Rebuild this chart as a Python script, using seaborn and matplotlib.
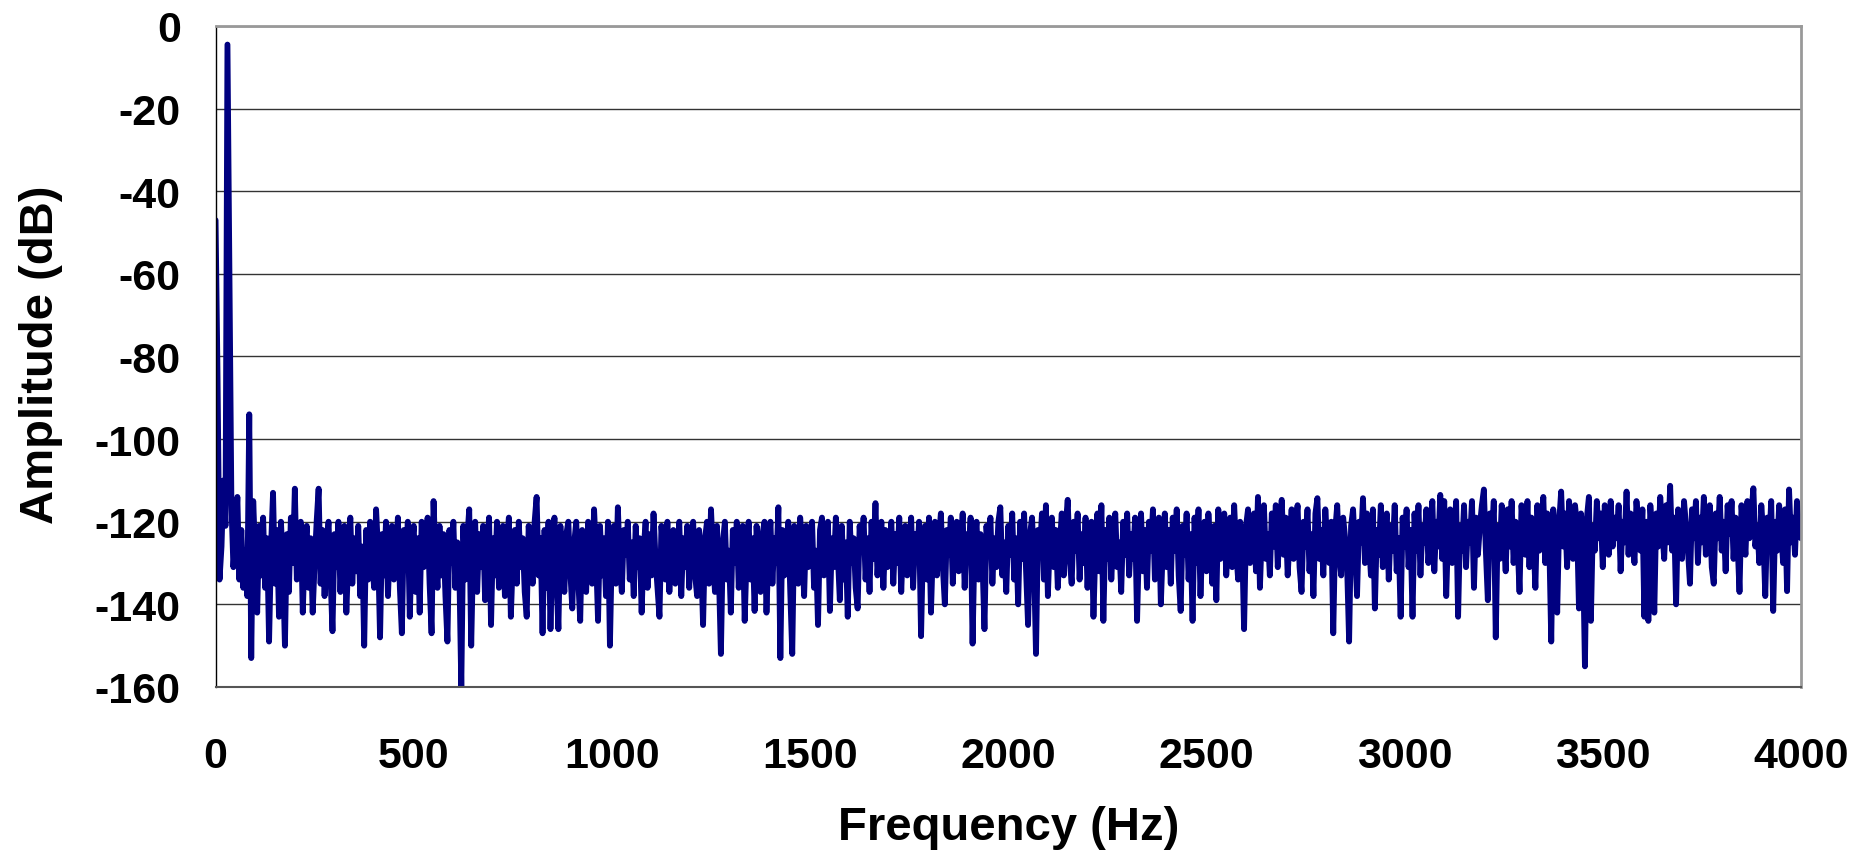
import numpy as np
import pandas as pd
import matplotlib.pyplot as plt
import seaborn as sns

# spectrum, one point every 5 Hz, one row = 100 Hz
freq_hz = np.arange(0, 4001, 5)

amp_0000 = [-47, -85, -134, -126, -110, -121, -4.5, -60, -116, -131, -124, -114, -134, -122, -136, -127, -138, -94, -153, -115]
amp_0100 = [-128, -142, -121, -133, -119, -136, -124, -149, -126, -113, -135, -122, -143, -120, -131, -150, -123, -137, -119, -130]
amp_0200 = [-112, -134, -125, -120, -142, -127, -121, -136, -124, -142, -130, -120, -112, -135, -122, -138, -126, -120, -133, -146.5]
amp_0300 = [-123, -131, -120, -137, -125, -121, -142, -128, -119, -135, -124, -132, -121, -138, -126, -150, -122, -134, -120, -129]
amp_0400 = [-136, -117, -127, -148, -123, -133, -120, -138, -125, -121, -134, -128, -119, -136, -147, -122, -130, -120, -143, -126]
amp_0500 = [-121, -137, -124, -142, -120, -131, -126, -119, -135, -147, -115, -129, -136, -121, -133, -123, -138, -149, -122, -130]
amp_0600 = [-120, -136, -125, -132, -160, -121, -134, -124, -117, -150, -127, -120, -137, -123, -131, -121, -139, -126, -119, -145]
amp_0700 = [-124, -133, -120, -136, -127, -121, -138, -125, -119, -143, -129, -122, -135, -120, -131, -124, -137, -143, -121, -128]
amp_0800 = [-135, -120, -114, -133, -124, -147, -122, -136, -120, -146, -127, -119, -134, -146, -121, -130, -137, -123, -120, -132]
amp_0900 = [-141, -125, -120, -134, -144, -122, -129, -137, -120, -126, -135, -117, -128, -144, -121, -133, -124, -138, -120, -150]
amp_1000 = [-126, -121, -135, -116.5, -130, -137, -122, -128, -120, -134, -125, -138, -121, -131, -124, -142, -127, -120, -136, -123]
amp_1100 = [-133, -118, -129, -136, -143, -121, -127, -134, -120, -137, -125, -122, -135, -128, -120, -138, -124, -131, -121, -136]
amp_1200 = [-126, -120, -133, -138, -122, -129, -145, -124, -120, -135, -117, -128, -137, -121, -133, -152, -125, -120, -134, -127]
amp_1300 = [-142, -122, -130, -120, -136, -125, -121, -144, -128, -120, -134, -124, -141.6, -121, -130, -137, -123, -120, -142, -127]
amp_1400 = [-120, -135, -124, -130, -116.5, -153, -122, -133, -126, -120, -137, -152, -121, -129, -135, -119, -126, -138, -121, -131]
amp_1500 = [-124, -120, -136, -127, -145, -122, -119, -133, -126, -120, -141.6, -124, -131, -119, -128, -139, -121, -134, -125, -143]
amp_1600 = [-120, -130, -124, -136, -141, -121, -127, -119, -134, -124, -137, -120, -129, -115.5, -133, -125, -120, -136, -122, -131]
amp_1700 = [-127, -120, -135, -123, -130, -119, -137, -124, -121, -133, -126, -119, -136, -123, -129, -120, -147.7, -125, -121, -134]
amp_1800 = [-119, -142, -126, -120, -133, -124, -118, -131, -140, -122, -128, -119, -135, -124, -120, -132, -126, -118, -136, -123]
amp_1900 = [-129, -119, -149.5, -125, -120, -134, -123, -130, -146, -121, -127, -119, -135, -124, -131, -120, -116.5, -133, -125, -137]
amp_2000 = [-121, -128, -118, -134, -124, -140, -120, -129, -118, -132, -145, -123, -119, -130, -152, -122, -127, -118, -134, -116]
amp_2100 = [-138, -124, -119, -131, -122, -136, -126, -118, -133, -121, -114.7, -129, -135, -120, -127, -118, -134, -123, -130, -119]
amp_2200 = [-136, -124, -120, -143, -126, -118, -132, -116, -144, -122, -129, -119, -134, -124, -118, -131, -125, -137, -120, -128]
amp_2300 = [-118, -133, -123, -129, -119, -144, -125, -118, -132, -122, -136, -120, -127, -117, -134, -124, -119, -140, -126, -118]
amp_2400 = [-131, -122, -135, -119, -127, -117, -133, -141.6, -121, -128, -118, -134, -123, -144, -119, -130, -117, -138, -124, -120]
amp_2500 = [-132, -118, -126, -135, -121, -139, -117, -129, -123, -118, -133, -125, -119, -131, -116, -127, -134, -120, -125, -146]
amp_2600 = [-121, -117, -130, -124, -118, -132, -114, -136, -122, -116, -129, -123, -133, -118, -126, -116, -131, -121, -114.7, -128]
amp_2700 = [-119, -133, -124, -117, -129, -121, -116, -131, -137, -120, -126, -117, -132, -123, -138, -118, -114.3, -129, -122, -133]
amp_2800 = [-117, -125, -130, -120, -147, -122, -116, -128, -133, -119, -124, -131, -149, -121, -117, -127, -138, -120, -125, -114.3]
amp_2900 = [-130, -118, -124, -133, -117, -141, -122, -128, -116, -131, -123, -118, -134, -121, -127, -116, -132, -124, -143, -119]
amp_3000 = [-126, -117, -131, -122, -143, -118, -127, -116, -133, -121, -125, -117, -130, -123, -115, -132, -120, -126, -113.5, -129]
amp_3100 = [-115, -138, -122, -117, -130, -124, -115, -143, -121, -127, -116, -131, -120, -125, -115, -136, -119, -128, -121, -116]
amp_3200 = [-112.2, -127, -139, -118, -124, -115, -148, -121, -129, -116, -123, -132, -117, -126, -115, -130, -120, -125, -137, -116]
amp_3300 = [-122, -128, -115, -131, -119, -124, -136, -116, -127, -121, -114, -130, -118, -125, -149, -117, -123, -142, -120, -112.7]
amp_3400 = [-126, -118, -131, -115, -123, -129, -116, -121, -141, -118, -127, -155, -119, -114, -144, -121, -127, -115, -124, -118]
amp_3500 = [-131, -116, -122, -128, -115, -126, -119, -124, -116, -132, -120, -125, -112.7, -128, -118, -123, -130, -115, -121, -127]
amp_3600 = [-117, -143, -120, -144, -116, -124, -142, -118, -126, -114, -122, -129, -116, -125, -111.3, -127, -119, -140, -117, -123]
amp_3700 = [-129, -115, -121, -127, -135, -117, -124, -115, -130, -119, -125, -114, -128, -121, -116, -131, -135, -118, -124, -114]
amp_3800 = [-127, -120, -132, -116, -123, -115, -129, -119, -125, -137, -116, -122, -128, -115, -124, -118, -111.9, -126, -121, -130]
amp_3900 = [-116, -123, -138, -119, -125, -115, -141.6, -120, -127, -116, -122, -130, -117, -136.8, -112.2, -125, -119, -128, -115, -121]
amp_4000 = [-124]

amplitude_db = (amp_0000 + amp_0100 + amp_0200 + amp_0300 + amp_0400 + amp_0500 + amp_0600
                + amp_0700 + amp_0800 + amp_0900 + amp_1000 + amp_1100 + amp_1200 + amp_1300
                + amp_1400 + amp_1500 + amp_1600 + amp_1700 + amp_1800 + amp_1900 + amp_2000
                + amp_2100 + amp_2200 + amp_2300 + amp_2400 + amp_2500 + amp_2600 + amp_2700
                + amp_2800 + amp_2900 + amp_3000 + amp_3100 + amp_3200 + amp_3300 + amp_3400
                + amp_3500 + amp_3600 + amp_3700 + amp_3800 + amp_3900 + amp_4000)

x_ticks = [0, 500, 1000, 1500, 2000, 2500, 3000, 3500, 4000]
y_ticks = [0, -20, -40, -60, -80, -100, -120, -140, -160]

df = pd.DataFrame({'freq': freq_hz, 'amp': amplitude_db})

sns.set_style("white")
plt.rcParams['font.family'] = ['Liberation Sans', 'DejaVu Sans']
plt.rcParams['font.weight'] = 'bold'
plt.rcParams['text.color'] = 'black'
plt.rcParams['axes.unicode_minus'] = False

fig = plt.figure(figsize=(18.68, 8.54), dpi=100)
ax = fig.add_axes([0.1154, 0.1944, 0.8487, 0.7740])

sns.lineplot(data=df, x='freq', y='amp', color='#000080', linewidth=4.2,
             estimator=None, sort=False, ax=ax)

ax.set_xlim(0, 4000)
ax.set_ylim(-160, 0)
ax.set_xticks(x_ticks)
ax.set_yticks(y_ticks)
ax.set_xlabel('')
ax.set_ylabel('')

# grid behind the trace
ax.set_axisbelow(True)
ax.yaxis.grid(True, color='#333333', linewidth=1.0)
ax.xaxis.grid(False)

ax.spines['left'].set_color('black')
ax.spines['left'].set_linewidth(1.0)
ax.spines['bottom'].set_color('#555555')
ax.spines['bottom'].set_linewidth(1.5)
for s in ['top', 'right']:
    ax.spines[s].set_color('#999999')
    ax.spines[s].set_linewidth(2.0)

ax.tick_params(axis='x', direction='out', length=10, width=1, color='#555555',
               pad=25, labelsize=31, labelcolor='black')
ax.tick_params(axis='y', direction='out', length=10, width=1, color='black',
               pad=15, labelsize=31, labelcolor='black')
for lab in ax.get_xticklabels() + ax.get_yticklabels():
    lab.set_fontweight('bold')

fig.text(0.540, 0.016, 'Frequency (Hz)', ha='center', va='baseline',
         fontsize=34, fontweight='bold', color='black')
fig.text(0.0284, 0.585, 'Amplitude (dB)', ha='center', va='baseline',
         rotation=90, rotation_mode='anchor', fontsize=34, fontweight='bold',
         color='black')

fig.savefig('out.png', dpi=100)
